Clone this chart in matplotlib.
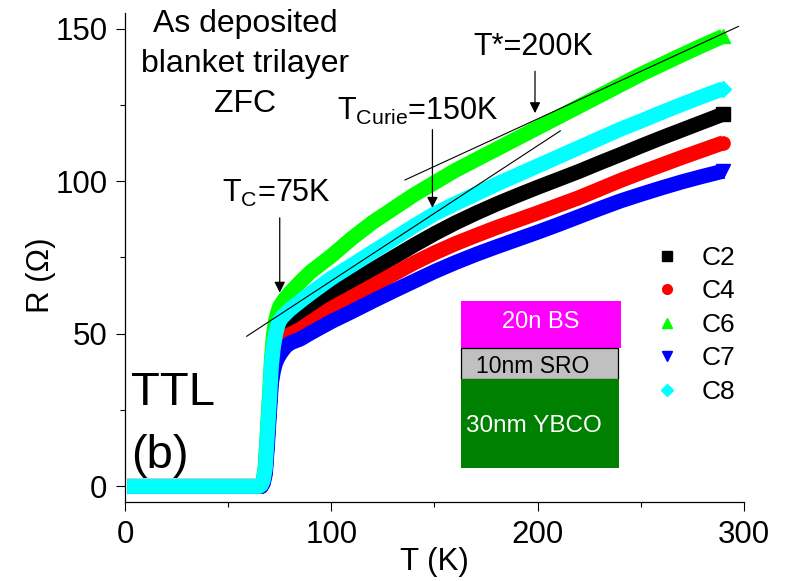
import matplotlib
matplotlib.use("Agg")
import matplotlib.pyplot as plt
from matplotlib.lines import Line2D
from matplotlib.patches import Rectangle

plt.rcParams['font.family'] = ['Liberation Sans', 'DejaVu Sans']
plt.rcParams['mathtext.fontset'] = 'custom'
plt.rcParams['mathtext.rm'] = 'Liberation Sans'
plt.rcParams['mathtext.it'] = 'Liberation Sans:italic'

# temperature grid (K)
T = [1, 10, 20, 30, 40, 50, 60, 65, 66, 67, 68, 69, 70, 71, 72, 73, 74, 75, 76, 77, 78, 80, 85, 90,
     100, 110, 120, 130, 140, 150, 160, 170, 180, 190, 200, 210, 220, 230, 240, 250, 260, 270, 280, 290]

flat = [0, 0, 0, 0, 0, 0, 0, 0]

# resistance (Ohm) for each contact
R_C2 = flat + [0, 1.5, 5, 15, 26, 37, 43, 46, 48, 49, 50, 50.8, 51.5, 52.7, 55.3, 58,
               62.8, 67, 71, 75, 79, 82.8, 86.3, 89.5, 92.5, 95.3, 98, 100.6, 103.2, 106, 108.7,
               111.5, 114.2, 116.8, 119.4, 122]
R_C4 = flat + [0, 1.5, 5, 15, 26, 37, 41.5, 44, 45.5, 46.5, 47.3, 48, 48.7, 49.8, 51.5, 53.8,
               58.3, 62, 65.7, 69.5, 73.2, 76.5, 79.5, 82.2, 84.8, 87.2, 89.6, 92.1, 94.6, 97.4, 100.2,
               102.8, 105.3, 107.8, 110.2, 112.6]
R_C6 = flat + [0.5, 2, 7, 18, 30, 42, 50, 54.5, 57, 59, 60, 61, 61.8, 63.5, 67, 70.3,
               75.5, 81.3, 86.5, 91, 95.5, 99.5, 103.5, 107, 110.5, 114, 117.5, 121, 124.5, 128, 131.5,
               135, 138.2, 141.4, 144.5, 147.5]
R_C7 = flat + [0, 1, 4, 13, 24, 34, 38, 40.5, 42, 43.2, 44.2, 45.1, 45.9, 47, 48.3, 50.3,
               54, 57.3, 60.7, 64, 67.2, 70.4, 73.3, 76, 78.5, 80.9, 83.3, 85.8, 88.4, 91, 93.5,
               95.7, 97.8, 99.8, 101.6, 103.3]
R_C8 = flat + [0.5, 2, 6, 17, 28, 40, 46, 50, 52.5, 54.5, 55.3, 56, 56.7, 58, 60.7, 63.3,
               68.2, 72.5, 76.8, 81, 85.3, 89.3, 92.6, 95.8, 99, 102, 105, 108, 111, 114, 117,
               119.7, 122.5, 125.2, 127.8, 130.3]

labels = ['C2', 'C4', 'C6', 'C7', 'C8']
series = [R_C2, R_C4, R_C6, R_C7, R_C8]
colors = ['black', 'red', '#00ff00', 'blue', 'cyan']
markers = ['s', 'o', '^', 'v', 'D']

# guide lines (T, R end points)
tc_line_T = [59, 211]
tc_line_R = [49.2, 116.5]
tstar_line_T = [135.7, 297.3]
tstar_line_R = [100.4, 150.7]

fig = plt.figure(figsize=(7.91, 5.81), dpi=100)
ax = fig.add_axes([0.158, 0.1365, 0.7826, 0.8406])

for R, c, m in zip(series, colors, markers):
    ax.plot(T, R, color=c, lw=10.8, marker=m, ms=9.5 if m != 'D' else 8.5, markevery=[-1],
            solid_capstyle='butt', solid_joinstyle='round')

ax.plot(tc_line_T, tc_line_R, color='black', lw=0.8)
ax.plot(tstar_line_T, tstar_line_R, color='black', lw=0.8)

ax.set_xlim(0, 300)
ax.set_ylim(-5, 155)
ax.set_xticks([0, 100, 200, 300])
ax.set_yticks([0, 50, 100, 150])
ax.set_xticks([50, 150, 250], minor=True)
ax.set_yticks([25, 75, 125], minor=True)
ax.spines['top'].set_visible(False)
ax.spines['right'].set_visible(False)
for s in ['left', 'bottom']:
    ax.spines[s].set_linewidth(0.9)
ax.tick_params(which='major', direction='out', length=6.5, width=0.8, labelsize=22.5)
ax.tick_params(which='minor', direction='out', length=3.6, width=0.8)
ax.tick_params(axis='y', pad=6)
ax.tick_params(axis='x', pad=7)

ax.set_xlabel('T (K)', fontsize=22.5)
ax.set_ylabel('R (\u03a9)', fontsize=22.5)
ax.xaxis.set_label_coords(0.5, -0.093)
ax.yaxis.set_label_coords(-0.112, 0.464)

# arrows marking the characteristic temperatures
arrow = dict(arrowstyle='-|>', color='black', lw=0.9, mutation_scale=16, shrinkA=0, shrinkB=0)
ax.annotate('', xy=(75, 63.5), xytext=(75, 88), arrowprops=arrow)
ax.annotate('', xy=(149, 91.3), xytext=(149, 116.9), arrowprops=arrow)
ax.annotate('', xy=(198.7, 122.3), xytext=(198.7, 136), arrowprops=arrow)

ax.text(47, 93.3, r'T$_\mathrm{C}$=75K', fontsize=22, va='baseline')
ax.text(102.8, 120.1, r'T$_\mathrm{Curie}$=150K', fontsize=22, va='baseline')
ax.text(168.7, 141.5, 'T*=200K', fontsize=22, va='baseline')

ax.text(58.2, 149, 'As deposited', fontsize=23, ha='center', va='baseline')
ax.text(58.2, 135.9, 'blanket trilayer', fontsize=23, ha='center', va='baseline')
ax.text(58.2, 122.8, 'ZFC', fontsize=23, ha='center', va='baseline')

ax.text(0.01, 0.198, 'TTL', fontsize=34, transform=ax.transAxes, va='baseline')
ax.text(0.01, 0.068, '(b)', fontsize=34, transform=ax.transAxes, va='baseline')

# layer stack sketch
ax.add_patch(Rectangle((0.5428, 0.3153), 0.2585, 0.0956, transform=ax.transAxes,
                       facecolor='#ff00ff', edgecolor='none'))
ax.add_patch(Rectangle((0.5428, 0.2506), 0.2541, 0.0647, transform=ax.transAxes,
                       facecolor='#c0c0c0', edgecolor='black', lw=0.9))
ax.add_patch(Rectangle((0.5428, 0.0696), 0.2554, 0.1810, transform=ax.transAxes,
                       facecolor='#008000', edgecolor='none'))
ax.text(0.672, 0.368, '20n BS', color='white', fontsize=17, ha='center', va='center',
        transform=ax.transAxes)
ax.text(0.658, 0.276, '10nm SRO', color='black', fontsize=16.5, ha='center', va='center',
        transform=ax.transAxes)
ax.text(0.661, 0.155, '30nm YBCO', color='white', fontsize=17.5, ha='center', va='center',
        transform=ax.transAxes)

handles = [Line2D([], [], ls='none', marker=m, color=c, ms=7 if m != 'D' else 6)
           for c, m in zip(colors, markers)]
fig.legend(handles, labels, loc='upper left', bbox_to_anchor=(0.827, 0.577), frameon=False,
           fontsize=19, handlelength=1.0, handletextpad=0.8, labelspacing=0.36,
           borderpad=0, borderaxespad=0)

fig.savefig('out.png', dpi=100)
